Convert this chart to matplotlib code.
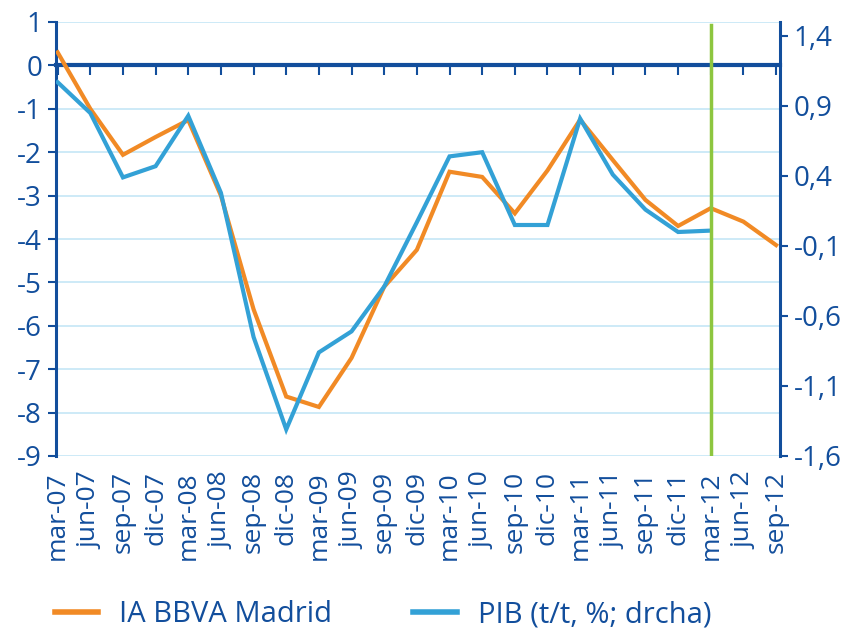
import matplotlib
matplotlib.use("Agg")
import matplotlib.pyplot as plt
from matplotlib.lines import Line2D
import numpy as np

categories = ["mar-07", "jun-07", "sep-07", "dic-07", "mar-08", "jun-08", "sep-08", "dic-08",
              "mar-09", "jun-09", "sep-09", "dic-09", "mar-10", "jun-10", "sep-10", "dic-10",
              "mar-11", "jun-11", "sep-11", "dic-11", "mar-12", "jun-12", "sep-12"]
ia_bbva = [0.3, -1.0, -2.06, -1.65, -1.26, -3.0, -5.62, -7.63, -7.87, -6.74, -5.1, -4.25,
           -2.45, -2.57, -3.41, -2.42, -1.25, -2.18, -3.1, -3.7, -3.29, -3.6, -4.14]
pib = [1.07, 0.85, 0.39, 0.47, 0.83, 0.28, -0.75, -1.41, -0.86, -0.71, -0.39, 0.07,
       0.54, 0.57, 0.05, 0.05, 0.81, 0.41, 0.16, 0.0, 0.01]
left_ticks = list(range(-9, 2))
right_ticks = [-1.6, -1.1, -0.6, -0.1, 0.4, 0.9, 1.4]
marker_cat = "mar-12"

ORANGE = "#F18A25"
BLUE = "#33A1D6"
DARK = "#124E9C"
GRID = "#C5E6F6"
GREEN = "#8DC63F"

plt.rcParams['font.family'] = ['Open Sans', 'DejaVu Sans']

fig = plt.figure(figsize=(8.52, 6.34), dpi=100)
ax = fig.add_axes([56/852, 1-456/634, 724/852, 434/634])
x = np.arange(len(categories))

ax.set_xlim(x[0] - 0.05, x[-1] + 0.12)
ax.set_ylim(-9, 1)
ax.set_yticks(left_ticks)
ax.set_yticklabels([str(t) for t in left_ticks])
for t in left_ticks:
    ax.axhline(t, color=GRID, lw=1.2, zorder=0)

ax.plot(x[:len(ia_bbva)], ia_bbva, color=ORANGE, lw=3, zorder=3, solid_joinstyle='miter')

ax2 = ax.twinx()
ax2.set_ylim(-1.6, 1.5)
ax2.set_yticks(right_ticks)
ax2.set_yticklabels([f"{t:.1f}".replace(".", ",") for t in right_ticks])
ax2.plot(x[:len(pib)], pib, color=BLUE, lw=3, zorder=3, solid_joinstyle='miter')

mi = categories.index(marker_cat)
ax2.plot([x[mi], x[mi]], [-1.6, 1.48], color=GREEN, lw=2.5, zorder=4)

for a in (ax, ax2):
    a.spines['top'].set_visible(False)

ax.spines['right'].set_visible(False)
ax.spines['left'].set_color(DARK)
ax.spines['left'].set_linewidth(2.2)
ax.spines['bottom'].set_position(('data', 0))
ax.spines['bottom'].set_color(DARK)
ax.spines['bottom'].set_linewidth(3)
ax2.spines['left'].set_visible(False)
ax2.spines['bottom'].set_visible(False)
ax2.spines['right'].set_color(DARK)
ax2.spines['right'].set_linewidth(2.2)

ax.tick_params(axis='y', colors=DARK, labelsize=20, length=6, width=1.5, pad=4)
ax2.tick_params(axis='y', colors=DARK, labelsize=20, length=6, width=1.5, pad=4)
ax.set_xticks(x)
ax.tick_params(axis='x', colors=DARK, length=7, width=1.5, direction='out', labelbottom=False)

sec = ax.secondary_xaxis(-0.0)
sec.set_xticks(x)
sec.set_xticklabels(categories, rotation=90, color=DARK, fontsize=19)
sec.tick_params(axis='x', length=0, pad=11)
sec.spines['bottom'].set_visible(False)

handles = [Line2D([], [], color=ORANGE, lw=4), Line2D([], [], color=BLUE, lw=4)]
fig.legend(handles, ["IA BBVA Madrid", "PIB (t/t, %; drcha)"], loc='center left',
           bbox_to_anchor=(0.064, 0.03), ncol=2, frameon=False, fontsize=21,
           handlelength=1.5, columnspacing=2.8, handletextpad=0.7, labelcolor=DARK,
           borderpad=0, borderaxespad=0)

fig.savefig("out.png", dpi=100)
